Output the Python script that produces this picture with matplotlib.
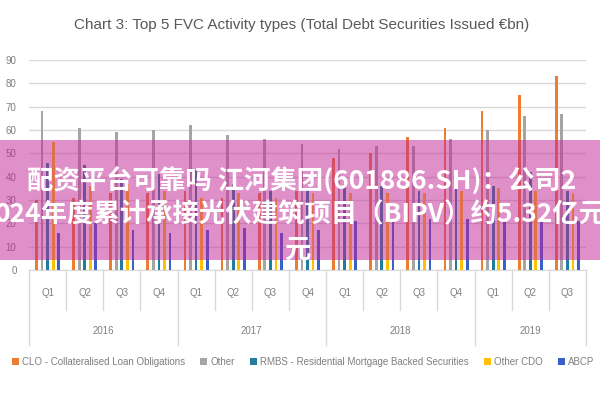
import matplotlib
matplotlib.use("Agg")
import matplotlib.pyplot as plt
from matplotlib.patches import Rectangle
import numpy as np

plt.rcParams['font.family'] = ['Liberation Sans Narrow', 'Liberation Sans', 'DejaVu Sans']

quarters = ['Q1', 'Q2', 'Q3', 'Q4', 'Q1', 'Q2', 'Q3', 'Q4', 'Q1', 'Q2', 'Q3', 'Q4', 'Q1', 'Q2', 'Q3']
years = ['2016', '2017', '2018', '2019']
year_counts = [4, 4, 4, 3]
series_names = ['CLO - Collateralised Loan Obligations', 'Other',
                'RMBS - Residential Mortgage Backed Securities', 'Other CDO', 'ABCP']
clo = [30, 31, 33, 33, 34, 31, 33, 34, 48, 50, 57, 61, 68, 75, 83]
other = [68, 61, 59, 60, 62, 58, 56, 54, 52, 53, 53, 56, 60, 66, 67]
rmbs = [46, 45, 39, 41, 43, 37, 34, 35, 37, 36, 34, 37, 36, 42, 34]
other_cdo = [55, 36, 37, 34, 31, 33, 31, 33, 33, 33, 33, 34, 35, 34, 33]
abcp = [16, 20, 17, 16, 17, 18, 16, 17, 21, 21, 22, 22, 21, 21, 21]
title = 'Chart 3: Top 5 FVC Activity types (Total Debt Securities Issued €bn)'
yticks = [0, 10, 20, 30, 40, 50, 60, 70, 80, 90]

colors = ['#ED7D31', '#A5A5A5', '#1F7E9B', '#FFC000', '#3A5FC8']
data = [clo, other, rmbs, other_cdo, abcp]

fig = plt.figure(figsize=(6, 4), dpi=100)
ax = fig.add_axes([29 / 600, 1 - 270 / 400, (586 - 29) / 600, 210 / 400])

x = np.arange(len(quarters))
offsets = [-0.3, -0.15, 0.0, 0.15, 0.3]
bw = 0.075
for vals, col, off, name in zip(data, colors, offsets, series_names):
    ax.bar(x + off, vals, width=bw, color=col, label=name, zorder=3)

ax.set_xlim(-0.5, len(quarters) - 0.5)
ax.set_ylim(0, 90)
ax.set_yticks(yticks)
ax.set_yticklabels([str(v) for v in yticks], fontsize=7, color='#7F7F7F')
ax.tick_params(axis='y', length=0, pad=9)
ax.set_xticks([])
ax.grid(axis='y', color='#D9D9D9', linewidth=1.0, zorder=0)
for s in ['top', 'right', 'left']:
    ax.spines[s].set_visible(False)
ax.spines['bottom'].set_color('#D9D9D9')

trans = ax.get_xaxis_transform()
# quarter labels and separators
for i, q in enumerate(quarters):
    ax.text(i, -0.11, q, transform=trans, ha='center', va='center',
            fontsize=7, color='#7F7F7F')
start = 0
bounds = [-0.5]
for yr, n in zip(years, year_counts):
    ax.text(start + (n - 1) / 2, -0.29, yr, transform=trans, ha='center',
            va='center', fontsize=7, color='#7F7F7F')
    for k in range(1, n):
        xs = start + k - 0.5
        ax.plot([xs, xs], [0, -0.19], transform=trans, color='#D9D9D9',
                lw=1, clip_on=False)
    start += n
    bounds.append(start - 0.5)
for b in bounds:
    ax.plot([b, b], [0, -0.357], transform=trans, color='#D9D9D9',
            lw=1, clip_on=False)

fig.text(0.502, 1 - 25 / 400, title, ha='center', va='center',
         fontsize=11, color='#595959')

handles, labels = ax.get_legend_handles_labels()
leg = fig.legend(handles, labels, loc='center', bbox_to_anchor=(0.505, 1 - 362 / 400),
                 ncol=5, frameon=False, fontsize=7, handlelength=0.7,
                 handleheight=0.7, handletextpad=0.3, columnspacing=1.6)
for t in leg.get_texts():
    t.set_color('#7F7F7F')

# overlay banner
band = Rectangle((0, 1 - 260 / 400), 1, 120 / 400, transform=fig.transFigure,
                 facecolor='#C32395', alpha=0.5, edgecolor='none', zorder=10)
fig.patches.append(band)
cjk = ['Noto Sans CJK SC', 'DejaVu Sans']
fig.text(0.502, 1 - 182 / 400, '配资平台可靠吗 江河集团(601886.SH)：公司2',
         ha='center', va='center', fontsize=19, color='white',
         fontweight='bold', family=cjk, zorder=11)
fig.text(0.5, 1 - 215 / 400, '024年度累计承接光伏建筑项目（BIPV）约5.32亿元',
         ha='center', va='center', fontsize=19, color='white',
         fontweight='bold', family=cjk, zorder=11)
fig.text(0.495, 1 - 250 / 400, '元',
         ha='center', va='center', fontsize=19, color='white',
         fontweight='bold', family=cjk, zorder=11)

fig.savefig('out.png', dpi=100)
